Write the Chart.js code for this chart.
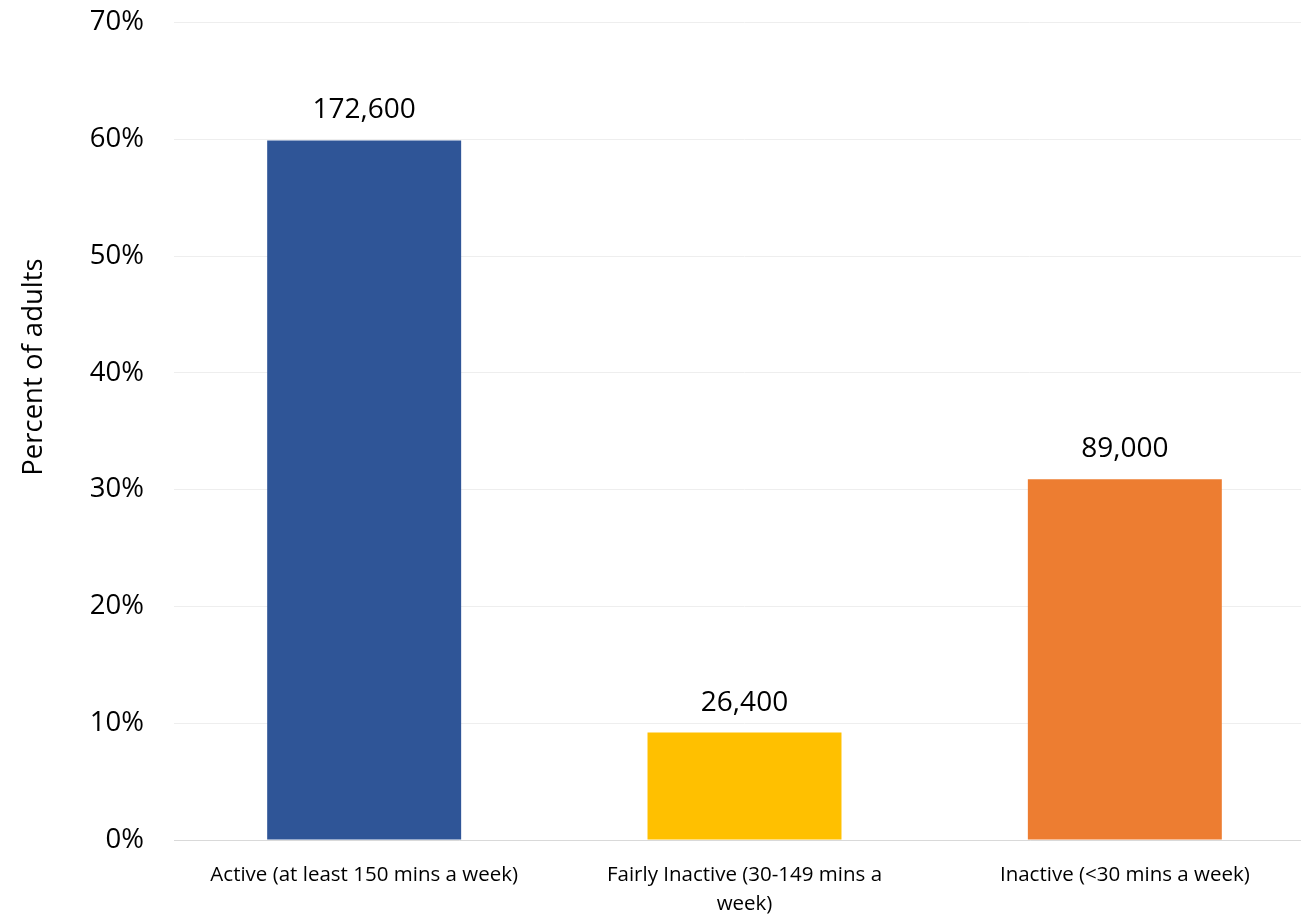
<!DOCTYPE html>
<html>
<head>
<meta charset="utf-8">
<script src="https://cdn.jsdelivr.net/npm/chart.js@4"></script>
<style>
  html, body { margin: 0; padding: 0; background: #fff; overflow: hidden; }
  #wrap { width: 1316px; height: 944px; margin-top: -24px; }
</style>
</head>
<body>
<div id="wrap"><canvas id="bar_chart"></canvas></div>
<script>
const categories = [
  "Active (at least 150 mins a week)",
  ["Fairly Inactive (30-149 mins a", "week)"],
  "Inactive (<30 mins a week)",
];
const percents = [59.9, 9.2, 30.9];
const counts = ["172,600", "26,400", "89,000"];
const colors = ["#2F5597", "#FFC000", "#ED7D31"];
const yTitle = "Percent of adults";

const FONT = "'Open Sans', sans-serif";

// counts above each bar + the y title (sits above the plot centre in the original)
const countLabels = {
  id: "countLabels",
  afterDatasetsDraw(chart) {
    const { ctx } = chart;
    const meta = chart.getDatasetMeta(0);
    ctx.save();
    ctx.font = "28px " + FONT;
    ctx.fillStyle = "#000";
    ctx.textAlign = "center";
    ctx.textBaseline = "bottom";
    meta.data.forEach((bar, i) => {
      ctx.fillText(counts[i], bar.x, bar.y - 16);
    });

    const yScale = chart.scales.y;
    ctx.translate(34, yScale.getPixelForValue(40.5));
    ctx.rotate(-Math.PI / 2);
    ctx.font = "27.5px " + FONT;
    ctx.textBaseline = "middle";
    ctx.fillText(yTitle, 0, 0);
    ctx.restore();
  },
};

const ctx = document.getElementById("bar_chart");

new Chart(ctx, {
  type: "bar",
  data: {
    labels: categories,
    datasets: [
      {
        data: percents,
        backgroundColor: colors,
        borderWidth: 0,
        barPercentage: 0.51,
        categoryPercentage: 1,
      },
    ],
  },
  options: {
    responsive: true,
    maintainAspectRatio: false,
    animation: false,
    layout: { padding: { top: 6, right: 1, bottom: 0, left: 0 } },
    plugins: {
      legend: { display: false },
      tooltip: { enabled: false },
    },
    scales: {
      x: {
        grid: { display: false, drawTicks: false },
        border: { color: "#D9D9D9", width: 1 },
        ticks: {
          color: "#000",
          font: { family: FONT, size: 20.5, lineHeight: 1.45 },
          padding: 20,
          maxRotation: 0,
          autoSkip: false,
        },
        afterFit(scale) {
          scale.height = 80;
        },
      },
      y: {
        min: 0,
        max: 70,
        ticks: {
          stepSize: 10,
          color: "#000",
          font: { family: FONT, size: 27.5 },
          padding: 30,
          callback: (v) => v + "%",
        },
        grid: { color: "#EEEEEE", drawTicks: false },
        border: { display: false },
        afterFit(scale) {
          scale.width = 174;
        },
      },
    },
  },
  plugins: [countLabels],
});
</script>
</body>
</html>
